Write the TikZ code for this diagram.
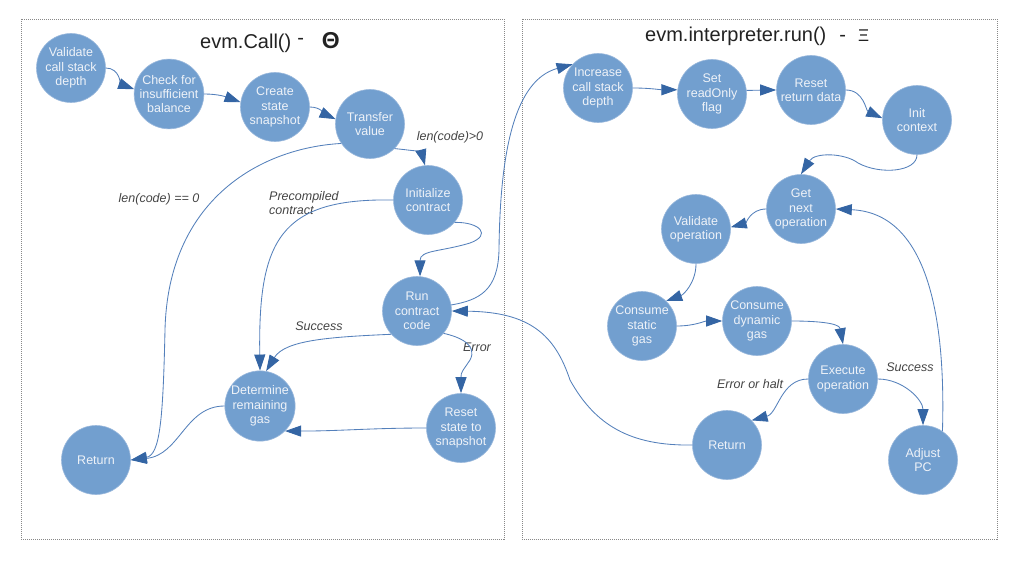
\documentclass[tikz,border=0pt]{standalone}
\usepackage{fontspec}
\setmainfont{Liberation Sans}
\usetikzlibrary{arrows.meta}
\definecolor{nodefill}{HTML}{729FCF}
\definecolor{nodeborder}{HTML}{9AB8DC}
\definecolor{nodetext}{HTML}{EEF2F8}
\definecolor{edgec}{HTML}{5480BB}
\definecolor{tipc}{HTML}{3465A4}
\definecolor{labelc}{HTML}{444444}
\definecolor{titlec}{HTML}{222222}
\definecolor{boxc}{HTML}{888888}
\tikzset{
  stnode/.style={circle, minimum size=69pt, inner sep=0pt, fill=nodefill, draw=nodeborder, line width=0.6pt,
    text=nodetext, align=center, font=\fontsize{12.5}{14.3}\selectfont},
  arr/.style={draw=edgec, line width=0.85pt, -{Triangle[length=16pt,width=11pt,color=tipc,fill=tipc]}},
  elabel/.style={text=labelc, font=\fontsize{12.5}{14.3}\selectfont\itshape, inner sep=0pt},
  boxline/.style={draw=boxc, line width=0.8pt, dash pattern=on 1pt off 1pt},
  titlenode/.style={text=titlec, font=\fontsize{20}{24}\selectfont, inner sep=0pt, anchor=base west}
}
\begin{document}
\begin{tikzpicture}[x=1pt,y=1pt]
\useasboundingbox (0,0) rectangle (1022,-575);
% panels
\draw[boxline] (21,-19) rectangle (504,-539);
\draw[boxline] (522,-19) rectangle (997,-539);
% titles
\node[titlenode] (t1) at (200,-49) {evm.Call()\hspace{6pt}\raisebox{4pt}{-}\hspace{18pt}{\fontsize{23}{23}\selectfont\bfseries Θ}};
\node[titlenode] (t2) at (645,-42) {evm.interpreter.run()\hspace{13pt}-\hspace{12pt}{\fontsize{17}{20}\selectfont Ξ}};
% left nodes
\node[stnode] (vcs) at (71,-68) {Validate\\call stack\\depth};
\node[stnode] (cib) at (169,-94) {Check for\\insufficient\\balance};
\node[stnode] (css) at (275,-107) {Create\\state\\snapshot};
\node[stnode] (tv) at (370,-124) {Transfer\\value};
\node[stnode] (ic) at (428,-200) {Initialize\\contract};
\node[stnode] (rcc) at (417,-311) {Run\\contract\\code};
\node[stnode] (drg) at (260,-406) {Determine\\remaining\\gas};
\node[stnode] (rss) at (461,-428) {Reset\\state to\\snapshot};
\node[stnode] (ret1) at (96,-460) {Return};
% right nodes
\node[stnode] (icd) at (598,-88) {Increase\\call stack\\depth};
\node[stnode] (sro) at (712,-94) {Set\\readOnly\\flag};
\node[stnode] (rrd) at (811,-90) {Reset\\return data};
\node[stnode] (ict) at (917,-120) {Init\\context};
\node[stnode] (gno) at (801,-209) {Get\\next\\operation};
\node[stnode] (vo) at (696,-229) {Validate\\operation};
\node[stnode] (csg) at (642,-326) {Consume\\static\\gas};
\node[stnode] (cdg) at (757,-321) {Consume\\dynamic\\gas};
\node[stnode] (eo) at (843,-379) {Execute\\operation};
\node[stnode] (ret2) at (727,-445) {Return};
\node[stnode] (apc) at (923,-460) {Adjust\\PC};
% labels
\node[elabel] (l1) at (450,-137) {len(code)>0};
\node[elabel] (l2) at (159,-199) {len(code) == 0};
\node[elabel, align=left, anchor=west] (l3) at (269,-203) {Precompiled\\contract};
\node[elabel] (l4) at (319,-326) {Success};
\node[elabel] (l5) at (477,-347) {Error};
\node[elabel] (l6) at (750,-384) {Error or halt};
\node[elabel] (l7) at (910,-367) {Success};
% left edges
\draw[arr] (vcs.east) to[out=0,in=160] (cib.172);
\draw[arr] (cib.east) to[out=0,in=160] (css.172);
\draw[arr] (css.east) to[out=0,in=155] (tv.172);
\draw[arr] (tv.-45) to[out=-5,in=105] (ic.95);
\draw[arr] (tv.214) .. controls (260,-148) and (168,-200) .. (165,-330)
   .. controls (163,-420) and (160,-455) .. (ret1.east);
\draw[arr] (ic.west) .. controls (280,-198) and (258,-240) .. (drg.north);
\draw[arr] (ic.-40) .. controls (480,-222) and (492,-235) .. (470,-243)
   .. controls (440,-252) and (420,-250) .. (rcc.85);
\draw[arr] (rcc.222) .. controls (330,-337) and (285,-340) .. (drg.80);
\draw[arr] (rcc.-40) .. controls (460,-337) and (478,-345) .. (470,-360)
   .. controls (462,-372) and (461,-372) .. (rss.north);
\draw[arr] (rss.west) to[out=180,in=0] (drg.-45);
\draw[arr] (drg.west) .. controls (185,-406) and (180,-455) .. (ret1.east);
% cross edges
\draw[arr] (ret2.west) .. controls (630,-446) and (595,-425) .. (570,-380)
   .. controls (555,-335) and (530,-312) .. (rcc.east);
\draw[arr] (rcc.10) .. controls (480,-300) and (498,-290) .. (499,-250)
   .. controls (500,-150) and (515,-80) .. (icd.137);
% right edges
\draw[arr] (icd.east) to[out=0,in=180] (sro.173);
\draw[arr] (sro.6) to[out=0,in=180] (rrd.west);
\draw[arr] (rrd.east) to[out=0,in=155] (ict.177);
\draw[arr] (ict.south) .. controls (917,-172) and (880,-175) .. (858,-163)
   .. controls (845,-153) and (815,-152) .. (gno.north);
\draw[arr] (gno.west) to[out=180,in=15] (vo.3);
\draw[arr] (vo.south) to[out=-90,in=20] (csg.46);
\draw[arr] (csg.east) to[out=0,in=180] (cdg.west);
\draw[arr] (cdg.east) to[out=0,in=100] (eo.north);
\draw[arr] (eo.west) to[out=180,in=15] (ret2.45);
\draw[arr] (eo.east) to[out=0,in=90] (apc.north);
\draw[arr] (apc.56) .. controls (946,-310) and (925,-213) .. (gno.east);
\end{tikzpicture}
\end{document}
